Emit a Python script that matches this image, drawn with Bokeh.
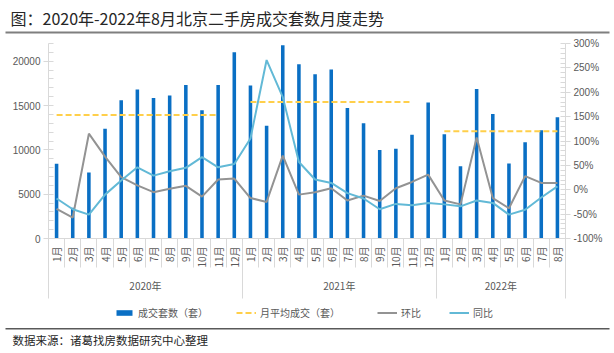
import math
from bokeh.plotting import figure
from bokeh.models import (Range1d, LinearAxis, FixedTicker, Legend, LegendItem,
                          Label, BoxAnnotation, ColumnDataSource)
from bokeh.embed import file_html
from bokeh.resources import INLINE

# ---------------- data ----------------
years = ["2020年", "2021年", "2022年"]
months_per_year = [12, 12, 8]
month_labels = ["1月", "2月", "3月", "4月", "5月", "6月", "7月", "8月", "9月", "10月", "11月", "12月",
                "1月", "2月", "3月", "4月", "5月", "6月", "7月", "8月", "9月", "10月", "11月", "12月",
                "1月", "2月", "3月", "4月", "5月", "6月", "7月", "8月"]
deals = [8440, 3470, 7460, 12390, 15590, 16800, 15860, 16120, 17330, 14460, 17330, 21020,
         17250, 12730, 21810, 19660, 18530, 19060, 14730, 12990, 9980, 10130, 11710, 15330,
         11750, 8140, 16870, 14050, 8470, 10850, 12200, 13670]
avg_by_year = [13930, 15400, 12090]
avg_months_shown = [11, 11, 8]
mom = [-39, -57, 115, 68, 26, 9, -5, 2, 8, -14, 21, 23,
       -17, -25, 70, -10, -5, 3, -22, -12, -23, 3, 16, 31,
       -22, -30, 107, -17, -38, 28, 14, 14]
yoy = [-18, -40, -51, -10, 19, 46, 29, 38, 45, 67, 46, 53,
       105, 266, 190, 57, 21, 14, -7, -18, -40, -29, -32, -27,
       -30, -34, -22, -27, -51, -41, -16, 7]
left_ticks = [0, 5000, 10000, 15000, 20000]
left_max = 22000
right_ticks = [-100, -50, 0, 50, 100, 150, 200, 250, 300]
legend_labels = ["成交套数（套）", "月平均成交（套）", "环比", "同比"]

title_text = "图：2020年-2022年8月北京二手房成交套数月度走势"
source_text = "数据来源：诸葛找房数据研究中心整理"

# ---------------- layout geometry (pixels) ----------------
W, H = 614, 353
PL, PR, PT, PB = 48, 565, 43, 238   # plot area edges
LEGEND_X = [114, 236, 377, 449]     # legend anchor x for each entry
LEGEND_CY = 313                     # legend row centre

# ---------------- derived ----------------
n = len(deals)
idx = list(range(n))
avg_x, avg_y = [], []
start = 0
for a, cnt, shown in zip(avg_by_year, months_per_year, avg_months_shown):
    for k in range(shown):
        avg_x.append(start + k)
        avg_y.append(a)
    avg_x.append(start + shown - 0.5)
    avg_y.append(float("nan"))
    start += cnt
year_centers, year_bounds = [], [-0.5]
start = 0
for cnt in months_per_year:
    year_centers.append(start + (cnt - 1) / 2)
    start += cnt
    year_bounds.append(start - 0.5)

x0, x1 = -0.5, n - 0.5
xs = (x1 - x0) / (PR - PL)
x_range = Range1d(x0 - PL * xs, x1 + (W - PR) * xs)
ys = left_max / (PB - PT)
y_range = Range1d(-(H - PB) * ys, left_max + PT * ys)
r0, r1 = right_ticks[0], right_ticks[-1]
rs = (r1 - r0) / (PB - PT)
pct_range = Range1d(r0 - (H - PB) * rs, r1 + PT * rs)

CJK = "Noto Sans CJK SC"
NUM = "Liberation Sans"
AXC = "#d9d9d9"
LBC = "#595959"

p = figure(width=W, height=H, output_backend="svg", toolbar_location=None,
           x_range=x_range, y_range=y_range, x_axis_type=None, y_axis_type=None,
           min_border_left=0, min_border_right=0, min_border_top=0, min_border_bottom=0)
p.extra_y_ranges = {"pct": pct_range}
p.outline_line_color = None
p.background_fill_color = "white"
p.border_fill_color = "white"

src = ColumnDataSource(dict(x=idx, deals=deals, mom=mom, yoy=yoy))
bars = p.vbar(x="x", top="deals", width=0.22, source=src, fill_color="#0a6fc4", line_color=None)
avg = p.line(avg_x, avg_y, line_color="#ffcf4a", line_width=2, line_dash="6 3")
l_mom = p.line("x", "mom", source=src, y_range_name="pct", line_color="#939393", line_width=2)
l_yoy = p.line("x", "yoy", source=src, y_range_name="pct", line_color="#62b9d6", line_width=2)

yl = LinearAxis(ticker=FixedTicker(ticks=left_ticks, minor_ticks=list(range(0, left_max + 1, 1000))),
                fixed_location=x0, bounds=(0, left_max))
yr = LinearAxis(y_range_name="pct", fixed_location=x1, bounds=(r0, r1),
                ticker=FixedTicker(ticks=right_ticks, minor_ticks=list(range(r0, r1 + 1, 10))))
yr.major_label_overrides = {v: f"{v}%" for v in right_ticks}
for ax in (yl, yr):
    ax.axis_line_color = AXC
    ax.major_tick_line_color = AXC
    ax.major_tick_out = 5
    ax.major_tick_in = 0
    ax.minor_tick_line_color = AXC
    ax.minor_tick_in = 5
    ax.minor_tick_out = 0
    ax.major_label_text_font = NUM
    ax.major_label_text_font_size = "10px"
    ax.major_label_text_color = LBC
    ax.major_label_standoff = 3
p.add_layout(yl, "left")
p.add_layout(yr, "right")

# month axis
xm = LinearAxis(ticker=FixedTicker(ticks=idx, minor_ticks=[i - 0.5 for i in range(n + 1)]),
                fixed_location=0, bounds=(x0, x1))
xm.major_label_overrides = {i: lab for i, lab in zip(idx, month_labels)}
xm.major_label_orientation = math.pi / 2
xm.axis_line_color = AXC
xm.major_tick_line_color = None
xm.major_tick_out = 0
xm.major_tick_in = 0
xm.minor_tick_line_color = AXC
xm.minor_tick_out = 29
xm.minor_tick_in = 0
xm.major_label_text_font = CJK
xm.major_label_text_font_size = "10px"
xm.major_label_text_color = LBC
xm.major_label_standoff = -21
p.add_layout(xm, "below")

# year axis
xy = LinearAxis(ticker=FixedTicker(ticks=year_centers, minor_ticks=year_bounds),
                fixed_location=0, bounds=(x0, x1))
xy.major_label_overrides = {c: y for c, y in zip(year_centers, years)}
xy.axis_line_color = None
xy.major_tick_line_color = None
xy.major_tick_out = 0
xy.major_tick_in = 0
xy.minor_tick_line_color = AXC
xy.minor_tick_in = 0
xy.minor_tick_out = 60
xy.major_label_text_font = CJK
xy.major_label_text_font_size = "10px"
xy.major_label_text_color = LBC
xy.major_label_standoff = -21
p.add_layout(xy, "below")

# one legend per entry, so each sits where the reference puts it
for lab, rend, lx in zip(legend_labels, [bars, avg, l_mom, l_yoy], LEGEND_X):
    lg = Legend(items=[LegendItem(label=lab, renderers=[rend])],
                orientation="horizontal", location=(lx, H - LEGEND_CY - 7))
    lg.label_text_font = CJK
    lg.label_text_font_size = "10px"
    lg.label_text_color = LBC
    lg.glyph_width = 20
    lg.glyph_height = 7
    lg.label_height = 14
    lg.label_standoff = 4
    lg.padding = 0
    lg.margin = 0
    lg.border_line_color = None
    lg.background_fill_alpha = 0
    p.add_layout(lg)

# title, source, rules (screen units, origin bottom-left of the canvas-sized frame)
p.add_layout(Label(x=10, y=H - 17, x_units="screen", y_units="screen", text=title_text,
                   text_font=CJK, text_font_size="16px", text_color="#262626",
                   text_baseline="middle"))
p.add_layout(Label(x=12, y=H - 339, x_units="screen", y_units="screen", text=source_text,
                   text_font=CJK, text_font_size="11.5px", text_color="#262626",
                   text_baseline="middle"))
p.add_layout(BoxAnnotation(left=5, right=609, top=H - 31, bottom=H - 33, left_units="screen",
                           right_units="screen", top_units="screen", bottom_units="screen",
                           fill_color="#7f7f7f", fill_alpha=1, line_color=None))
p.add_layout(BoxAnnotation(left=5, right=609, top=H - 327.5, bottom=H - 329, left_units="screen",
                           right_units="screen", top_units="screen", bottom_units="screen",
                           fill_color="#595959", fill_alpha=1, line_color=None))

open("out.html", "w").write(file_html(p, INLINE))
